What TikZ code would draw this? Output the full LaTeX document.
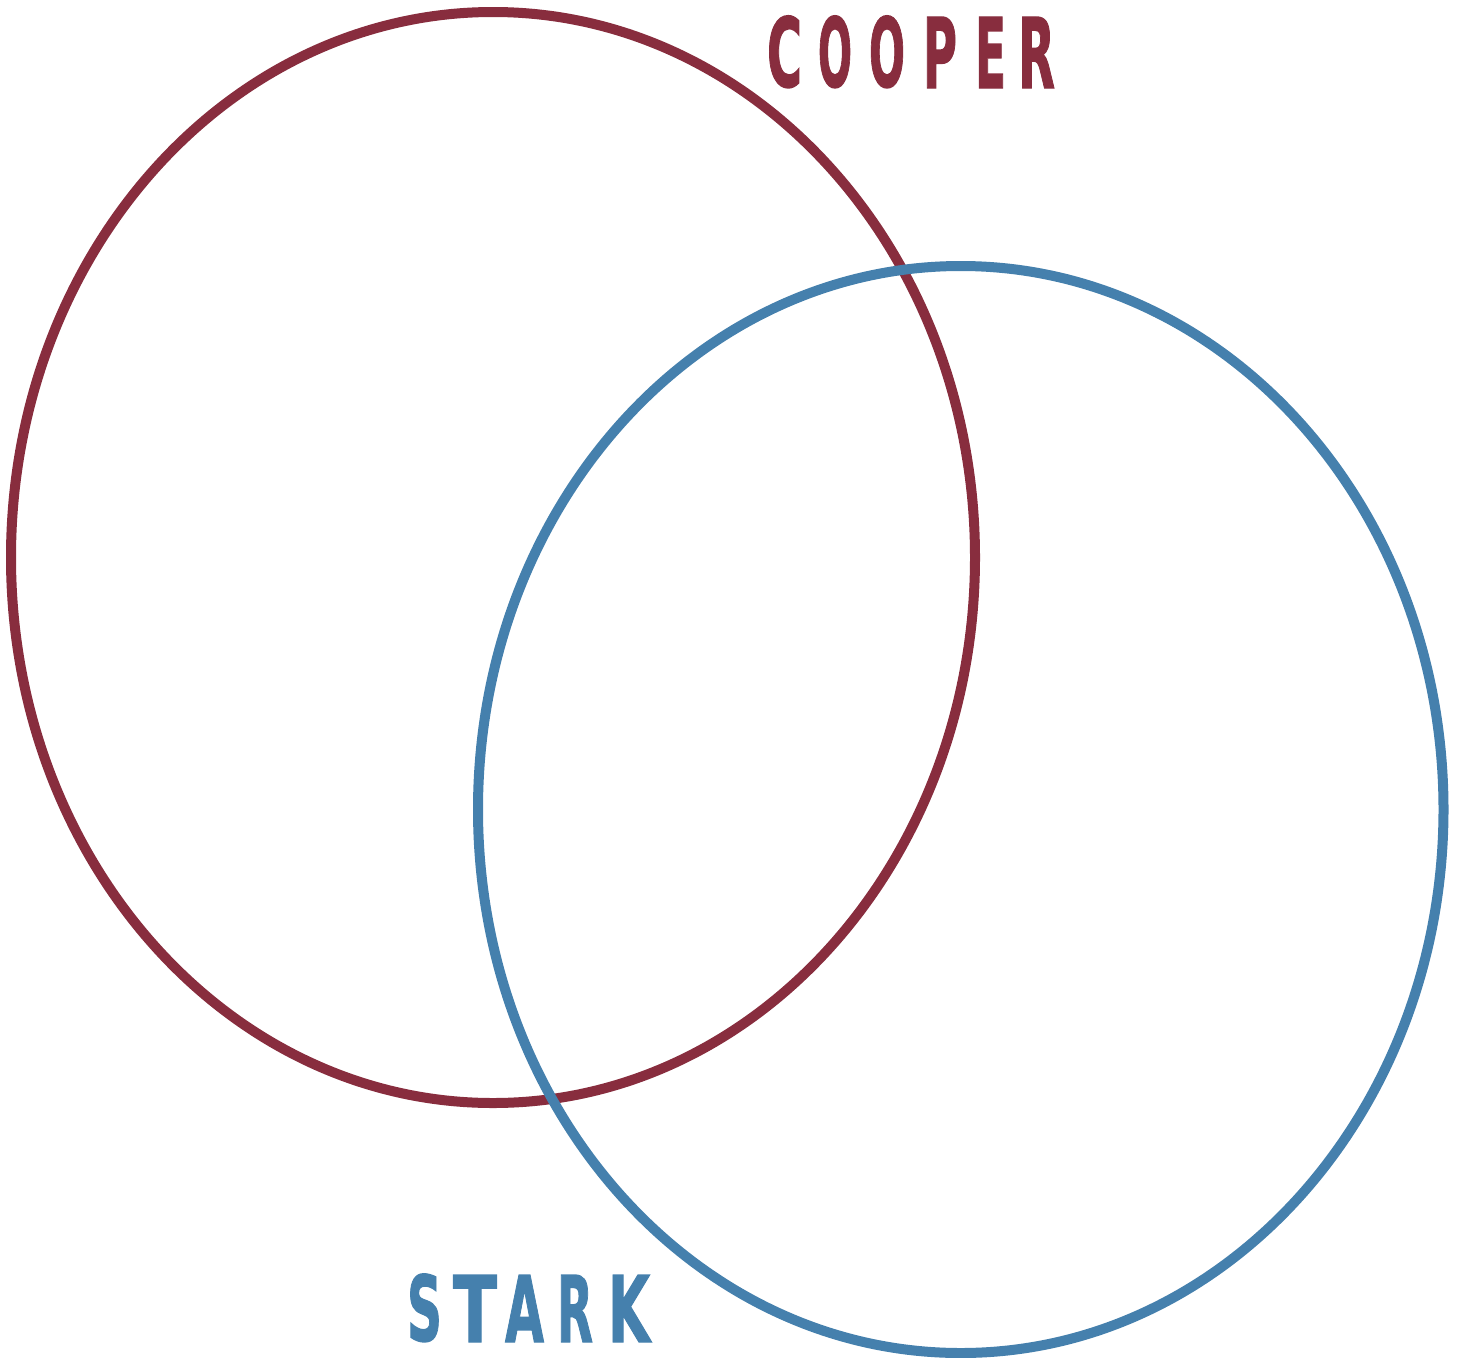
\documentclass[tikz,border=0pt]{standalone}
\usepackage{fontspec}
\setmainfont{Liberation Sans}
\newfontfamily\heavyfont[BoldFeatures={FakeBold=1.5}]{DejaVu Sans}
\usepackage{graphicx}
\definecolor{cooperred}{RGB}{136,45,62}
\definecolor{starkblue}{RGB}{69,128,173}
\newcommand{\lett}[3]{\resizebox{#1pt}{#2pt}{\heavyfont\bfseries #3}}
\begin{document}
\begin{tikzpicture}[x=1pt,y=-1pt,
  ring/.style={line width=10pt},
  letterbox/.style={inner sep=0pt, outer sep=0pt, anchor=south west}]
\useasboundingbox (0,0) rectangle (1461,1357);
% circles
\draw[ring, cooperred] (493,557.5) ellipse [x radius=482pt, y radius=545.5pt];
\draw[ring, starkblue] (960.75,809.5) ellipse [x radius=482.75pt, y radius=543.5pt];
\coordinate (cooperc) at (493,557.5);
\coordinate (starkc) at (960.75,809.5);
% COOPER
\node[letterbox, text=cooperred] (c1) at (767,88) {\lett{35}{71}{C}};
\node[letterbox, text=cooperred] (c2) at (818,88) {\lett{34}{71}{O}};
\node[letterbox, text=cooperred] (c3) at (869,88) {\lett{36}{71}{O}};
\node[letterbox, text=cooperred] (c4) at (923,88) {\lett{34}{71}{P}};
\node[letterbox, text=cooperred] (c5) at (975,88) {\lett{31}{71}{E}};
\node[letterbox, text=cooperred] (c6) at (1018,88) {\lett{37}{71}{R}};
% STARK
\node[letterbox, text=starkblue] (s1) at (407,1342) {\lett{35}{67}{S}};
\node[letterbox, text=starkblue] (s2) at (453,1342) {\lett{44}{67}{T}};
\node[letterbox, text=starkblue] (s3) at (505,1342) {\lett{39}{67}{A}};
\node[letterbox, text=starkblue] (s4) at (557,1342) {\lett{36}{67}{R}};
\node[letterbox, text=starkblue] (s5) at (608,1342) {\lett{42}{67}{K}};
\end{tikzpicture}
\end{document}
